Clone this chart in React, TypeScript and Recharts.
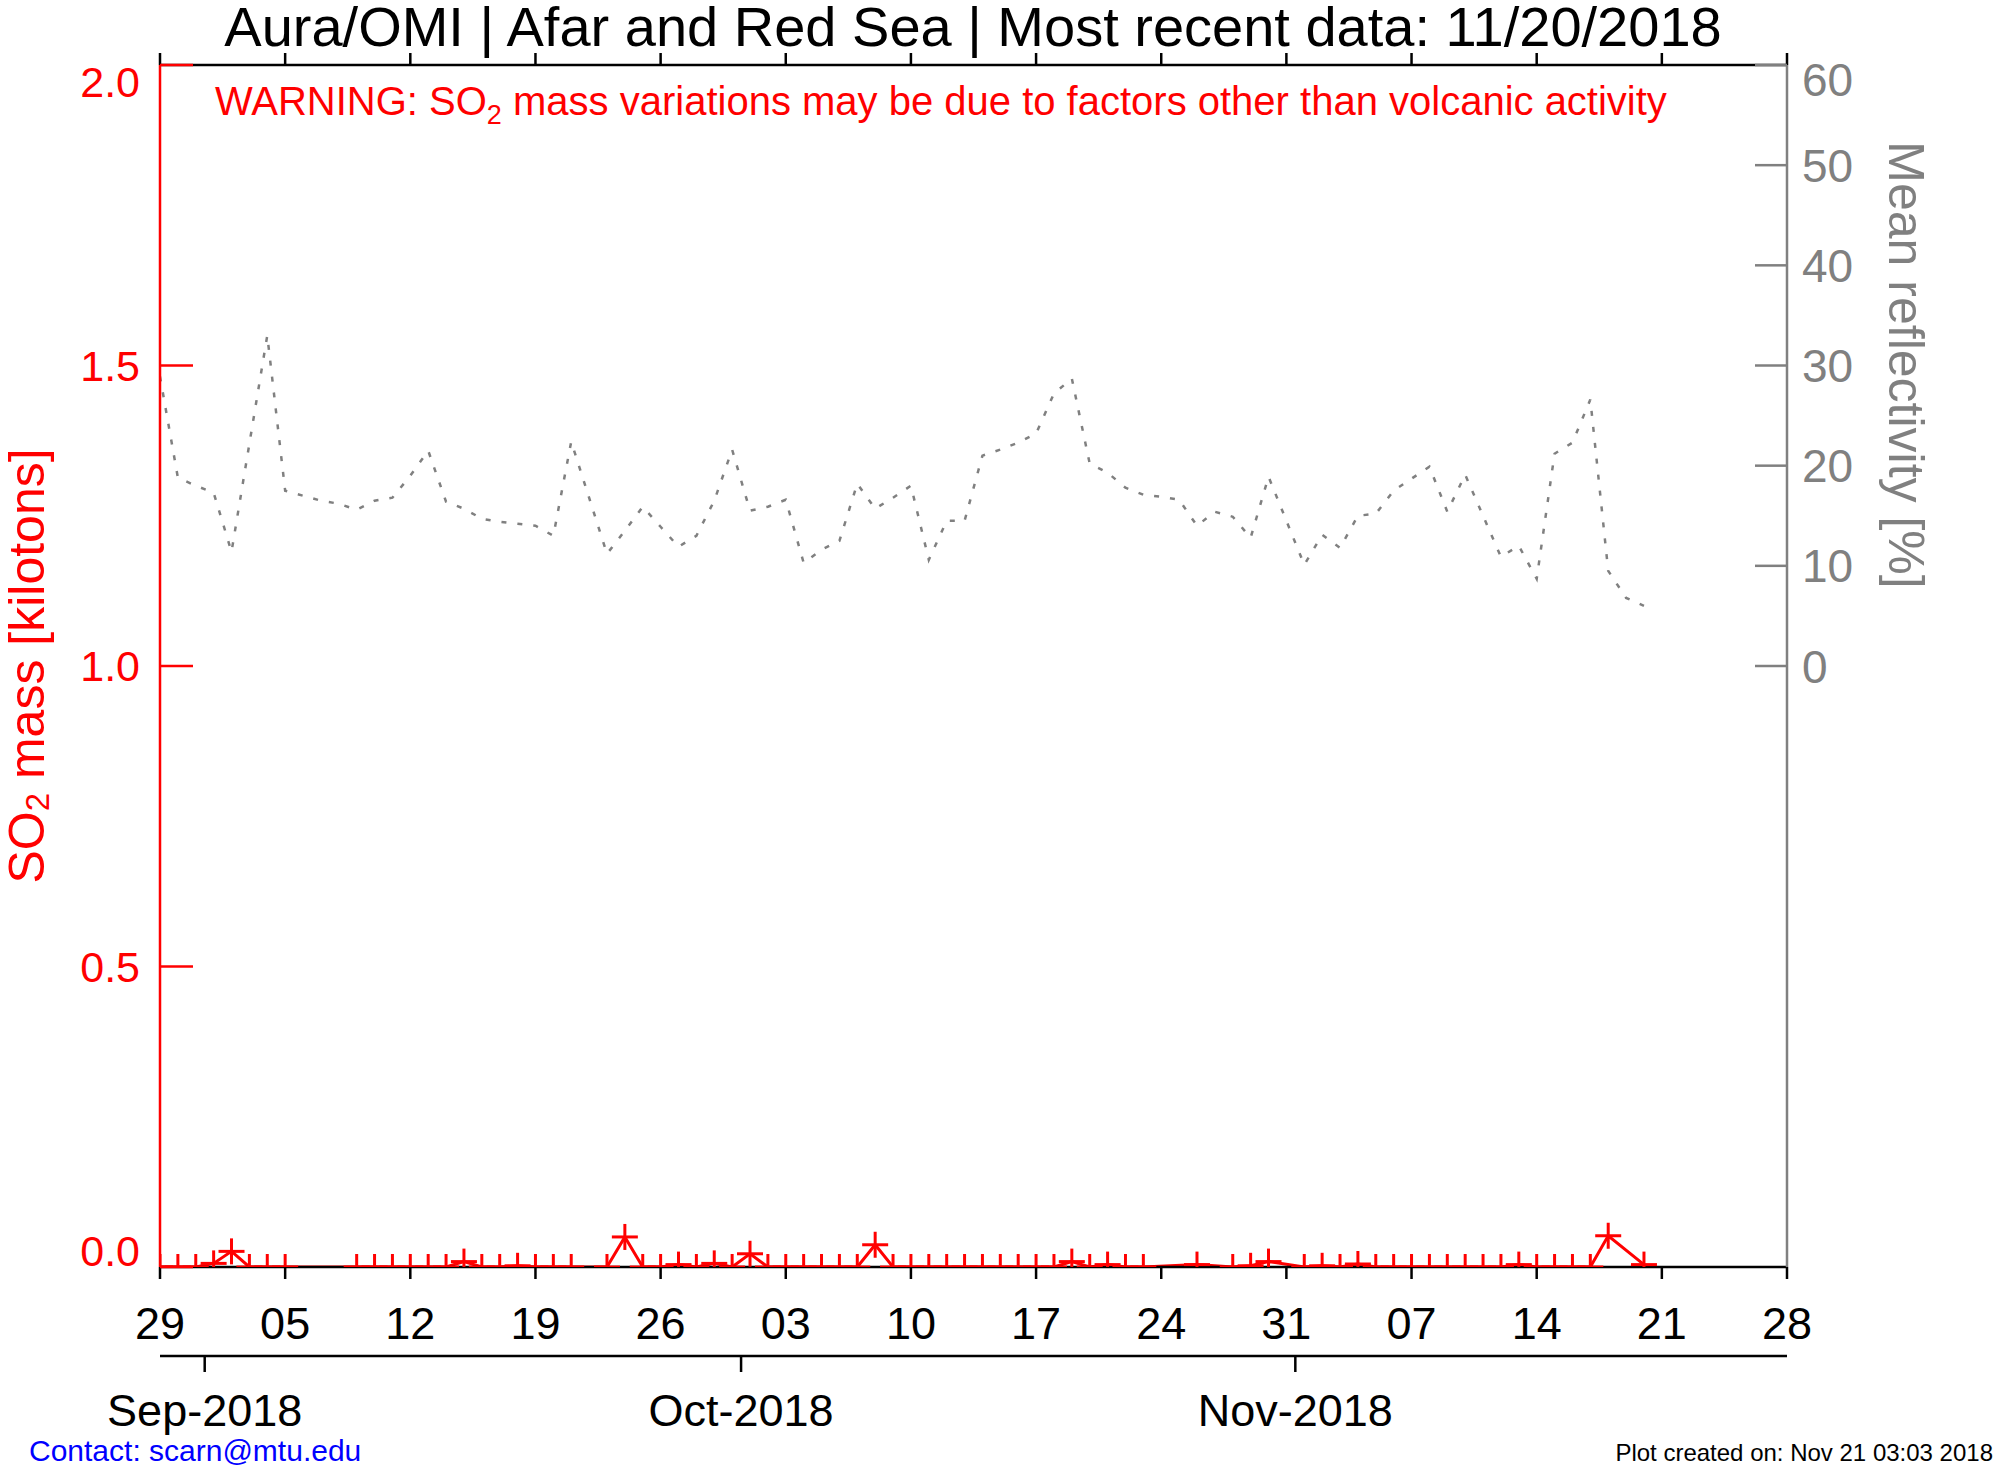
import React from 'react';
import { ComposedChart, Line, XAxis, YAxis } from 'recharts';

// days counted from Aug 29 2018 (tick "29" = day 0)
const weekTicks = [0, 7, 14, 21, 28, 35, 42, 49, 56, 63, 70, 77, 84, 91];
const weekLabels = ['29', '05', '12', '19', '26', '03', '10', '17', '24', '31', '07', '14', '21', '28'];
const monthTicks = [2.5, 32.5, 63.5];
const monthLabels = ['Sep-2018', 'Oct-2018', 'Nov-2018'];

const so2MajorTicks = [0, 0.5, 1.0, 1.5, 2.0];
const so2MinorTicks = [0, 0.1, 0.2, 0.3, 0.4, 0.5, 0.6, 0.7, 0.8, 0.9, 1.0, 1.1, 1.2, 1.3, 1.4, 1.5, 1.6, 1.7, 1.8, 1.9, 2.0];
const reflTicks = [0, 10, 20, 30, 40, 50, 60];

// mean reflectivity [%], one value per day (day 0 .. day 83)
const reflectivity = [
  28.9, 18.8, 18.0, 17.3, 11.4, 22.2, 33.0, 17.5, 17.0, 16.5,
  16.2, 15.6, 16.5, 16.8, 19.0, 21.5, 16.4, 15.7, 14.7, 14.4,
  14.2, 14.0, 13.0, 22.4, 16.8, 11.2, 13.5, 15.9, 13.9, 11.9,
  13.0, 16.5, 21.6, 15.5, 15.9, 16.6, 10.3, 11.6, 12.5, 18.2,
  15.7, 16.8, 18.0, 10.6, 14.5, 14.5, 21.0, 21.6, 22.3, 23.2,
  27.2, 28.7, 20.2, 19.3, 17.8, 17.1, 16.9, 16.6, 14.0, 15.4,
  14.9, 12.8, 18.9, 14.5, 10.1, 13.1, 11.8, 15.0, 15.2, 17.5,
  18.7, 19.9, 15.4, 19.1, 15.0, 10.9, 12.0, 8.7, 21.2, 22.3,
  26.6, 9.5, 6.8, 6.0,
];

// SO2 mass [kilotons], null = no measurement that day
const so2Mass = [
  0, 0, 0, 0.006, 0.026, 0, 0, 0, null, null,
  null, 0, 0, 0, 0, 0, 0, 0.009, 0, 0,
  0.002, 0, 0, 0, null, 0, 0.05, 0, 0, 0.004,
  0, 0.006, 0, 0.022, 0, 0, 0, 0, 0, 0,
  0.037, 0, 0, 0, 0, 0, 0, 0, 0, 0,
  0, 0.009, 0, 0.004, 0, 0, null, null, 0.004, null,
  0, 0.002, 0.009, null, 0, 0.002, 0, 0.005, 0, 0,
  0, 0, 0, 0, 0, 0, 0.004, 0, 0, 0,
  0, 0.052, null, 0.004,
];

const rows = reflectivity.map((r, i) => ({ day: i, refl: r, so2: so2Mass[i] }));

const FONT = '"Liberation Sans", Arial, Helvetica, sans-serif';
const RED = '#ff0000';
const GRAY = '#808080';

function PlusDot(props: any) {
  const { cx, cy, payload, index } = props;
  if (payload == null || payload.so2 == null || cx == null || cy == null) {
    return <g key={`p${index}`} />;
  }
  return (
    <g key={`p${index}`} stroke={RED} strokeWidth={3}>
      <line x1={cx - 13} y1={cy} x2={cx + 13} y2={cy} />
      <line x1={cx} y1={cy - 13} x2={cx} y2={cy + 13} />
    </g>
  );
}

function LeftTick(props: any) {
  const { x, y, payload } = props;
  const shift = payload.value === 2 ? 17 : payload.value === 0 ? -16 : 0;
  return (
    <text x={x} y={y + shift} dy="0.36em" textAnchor="end" fill={RED} fontSize={43} fontFamily={FONT}>
      {Number(payload.value).toFixed(1)}
    </text>
  );
}

function RightTick(props: any) {
  const { x, y, payload } = props;
  const shift = payload.value === 60 ? 14 : 0;
  return (
    <text x={x} y={y + shift} dy="0.36em" textAnchor="start" fill={GRAY} fontSize={46} fontFamily={FONT}>
      {payload.value}
    </text>
  );
}

const NoLabel = () => <g />;

export default function App() {
  return (
    <div style={{ position: 'absolute', left: 0, top: 0, width: 1996, height: 1466, background: '#fff' }}>
      <ComposedChart width={1996} height={1466} data={rows} margin={{ top: 64, right: 0, bottom: 30, left: 0 }}>
        <XAxis
          xAxisId="days"
          dataKey="day"
          type="number"
          domain={[0, 91]}
          allowDataOverflow
          ticks={weekTicks}
          interval={0}
          tickFormatter={(v: number) => weekLabels[weekTicks.indexOf(v)]}
          height={89}
          tickSize={12}
          tickMargin={28}
          axisLine={{ stroke: '#000', strokeWidth: 2.5 }}
          tickLine={{ stroke: '#000', strokeWidth: 2.5 }}
          tick={{ fill: '#000', fontSize: 45, fontFamily: FONT }}
        />
        <XAxis
          xAxisId="month"
          dataKey="day"
          type="number"
          domain={[0, 91]}
          allowDataOverflow
          ticks={monthTicks}
          interval={0}
          tickFormatter={(v: number) => monthLabels[monthTicks.indexOf(v)]}
          height={80}
          tickSize={16}
          tickMargin={22}
          axisLine={{ stroke: '#000', strokeWidth: 2.5 }}
          tickLine={{ stroke: '#000', strokeWidth: 2.5 }}
          tick={{ fill: '#000', fontSize: 45, fontFamily: FONT }}
        />
        <XAxis
          xAxisId="top"
          dataKey="day"
          orientation="top"
          type="number"
          domain={[0, 91]}
          allowDataOverflow
          ticks={weekTicks}
          interval={0}
          height={1}
          tickSize={12}
          tickMargin={0}
          tick={NoLabel}
          axisLine={{ stroke: '#000', strokeWidth: 2.5 }}
          tickLine={{ stroke: '#000', strokeWidth: 2.5 }}
        />
        <YAxis
          yAxisId="so2minor"
          type="number"
          domain={[0, 2]}
          allowDataOverflow
          ticks={so2MinorTicks}
          interval={0}
          width={0}
          tickSize={-15}
          tick={NoLabel}
          axisLine={false}
          tickLine={{ stroke: RED, strokeWidth: 2.5 }}
        />
        <YAxis
          yAxisId="so2"
          type="number"
          domain={[0, 2]}
          allowDataOverflow
          ticks={so2MajorTicks}
          interval={0}
          width={160}
          tickSize={-33}
          tickMargin={53}
          axisLine={{ stroke: RED, strokeWidth: 2.5 }}
          tickLine={{ stroke: RED, strokeWidth: 2.5 }}
          tick={<LeftTick />}
        />
        <YAxis
          yAxisId="refl"
          orientation="right"
          type="number"
          domain={[-60, 60]}
          allowDataOverflow
          ticks={reflTicks}
          interval={0}
          width={209}
          tickSize={-32}
          tickMargin={47}
          axisLine={{ stroke: GRAY, strokeWidth: 2.5 }}
          tickLine={{ stroke: GRAY, strokeWidth: 2.5 }}
          tick={<RightTick />}
        />
        <Line
          xAxisId="days"
          yAxisId="refl"
          dataKey="refl"
          type="linear"
          stroke={GRAY}
          strokeWidth={2.5}
          strokeDasharray="5 11"
          dot={false}
          activeDot={false}
          isAnimationActive={false}
        />
        <Line
          xAxisId="days"
          yAxisId="so2"
          dataKey="so2"
          type="linear"
          stroke={RED}
          strokeWidth={3}
          connectNulls
          dot={(p: any) => <PlusDot {...p} />}
          activeDot={false}
          isAnimationActive={false}
        />
      </ComposedChart>
      <svg
        width={1996}
        height={1466}
        style={{ position: 'absolute', left: 0, top: 0, pointerEvents: 'none' }}
        fontFamily={FONT}
      >
        <text x={973} y={46} textAnchor="middle" fontSize={56} fill="#000">
          Aura/OMI | Afar and Red Sea | Most recent data: 11/20/2018
        </text>
        <text x={215} y={115} fontSize={40} fill={RED}>
          WARNING: SO<tspan dy={9} fontSize={27}>2</tspan>
          <tspan dy={-9}> mass variations may be due to factors other than volcanic activity</tspan>
        </text>
        <text transform="translate(27,666) rotate(-90)" textAnchor="middle" dominantBaseline="central" fontSize={50} fill={RED}>
          SO<tspan dy={10} fontSize={33}>2</tspan>
          <tspan dy={-10}> mass [kilotons]</tspan>
        </text>
        <text transform="translate(1906,365) rotate(90)" textAnchor="middle" dominantBaseline="central" fontSize={50} fill={GRAY}>
          Mean reflectivity [%]
        </text>
        <text x={29} y={1461} fontSize={30} fill="#0000ff">
          Contact: scarn@mtu.edu
        </text>
        <text x={1993} y={1461} textAnchor="end" fontSize={24} fill="#000">
          Plot created on: Nov 21 03:03 2018
        </text>
      </svg>
    </div>
  );
}
